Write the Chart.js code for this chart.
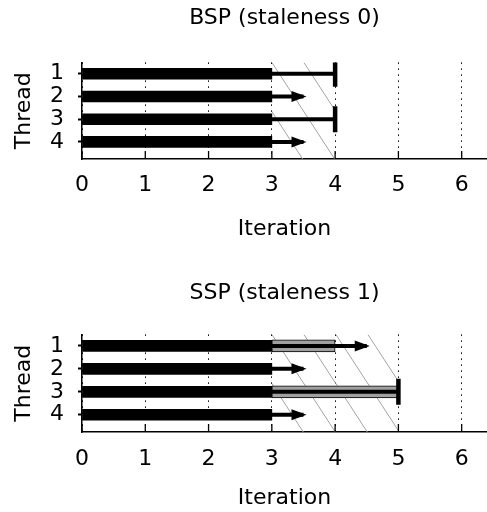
<!DOCTYPE html>
<html>
<head>
<meta charset="utf-8">
<script src="https://cdn.jsdelivr.net/npm/chart.js@4.4.0/dist/chart.umd.min.js"></script>
<style>
  html, body { margin: 0; padding: 0; background: #fff; overflow: hidden; }
  .box { position: absolute; left: 0; width: 487px; height: 256px; }
</style>
</head>
<body>
<div class="box" style="top:0"><canvas id="bspChart"></canvas></div>
<div class="box" style="top:256px"><canvas id="sspChart"></canvas></div>
<script>
const threads = [1, 2, 3, 4];
const xTicks = [0, 1, 2, 3, 4, 5, 6];
const yTicks = [1, 2, 3, 4];

// BSP (staleness 0)
const bspDone = [3, 3, 3, 3];            // finished iterations (thick black)
const bspCached = [3, 3, 3, 3];          // grey part end (none)
const bspReach = [4, 3.5, 4, 3.5];       // thin line end
const bspEnd = ['bar', 'arrow', 'bar', 'arrow'];
const bspWindow = [3, 4];                // hatched region

// SSP (staleness 1)
const sspDone = [3, 3, 3, 3];
const sspCached = [4, 3, 5, 3];
const sspReach = [4.5, 3.5, 5, 3.5];
const sspEnd = ['arrow', 'arrow', 'bar', 'arrow'];
const sspWindow = [3, 5];

const FONT = { family: 'DejaVu Sans', size: 22, weight: 'normal' };

// hatch, inward x ticks and arrow heads
const extras = {
    id: 'extras',
    beforeDatasetsDraw(chart, args, opts) {
        const { ctx, chartArea: a, scales: { x } } = chart;
        const x0 = x.getPixelForValue(opts.window[0]);
        const x1 = x.getPixelForValue(opts.window[1]);
        const h = a.bottom - a.top;
        const run = h * 0.65;
        ctx.save();
        ctx.beginPath();
        ctx.rect(x0, a.top, x1 - x0, h);
        ctx.clip();
        ctx.beginPath();
        ctx.strokeStyle = '#a4a4a4';
        ctx.lineWidth = 1;
        for (let sx = x0 - Math.ceil(run / 32) * 32; sx < x1; sx += 32) {
            ctx.moveTo(sx, a.top);
            ctx.lineTo(sx + run, a.bottom);
        }
        ctx.stroke();
        ctx.restore();

        ctx.save();
        ctx.strokeStyle = '#000';
        ctx.lineWidth = 1.3;
        ctx.beginPath();
        xTicks.forEach(v => {
            const px = x.getPixelForValue(v);
            ctx.moveTo(px, a.bottom);
            ctx.lineTo(px, a.bottom - 8);
        });
        ctx.stroke();
        ctx.restore();
    },
    afterDatasetsDraw(chart, args, opts) {
        const { ctx, scales: { x, y } } = chart;
        ctx.save();
        ctx.fillStyle = '#000';
        opts.reach.forEach((v, i) => {
            if (opts.ends[i] !== 'arrow') return;
            const px = x.getPixelForValue(v) + 3;
            const py = y.getPixelForValue(threads[i]);
            ctx.beginPath();
            ctx.moveTo(px, py);
            ctx.lineTo(px - 15, py - 5.5);
            ctx.lineTo(px - 15, py + 5.5);
            ctx.closePath();
            ctx.fill();
        });
        ctx.restore();
    }
};

function makeChart(id, title, done, cached, reach, ends, win, lay) {
    const datasets = [];

    // thick black bars
    datasets.push({
        type: 'bar',
        data: threads.map((t, i) => ({ x: [0, done[i]], y: t })),
        backgroundColor: '#000',
        barThickness: 11,
        grouped: false,
        order: 3
    });

    // grey bars
    datasets.push({
        type: 'bar',
        data: threads.map((t, i) => ({ x: [done[i], cached[i]], y: t })).filter(d => d.x[1] > d.x[0]),
        backgroundColor: '#a0a0a0',
        borderColor: '#000',
        borderWidth: 1,
        borderSkipped: false,
        barThickness: 12,
        grouped: false,
        order: 2
    });

    // thin lines
    threads.forEach((t, i) => {
        datasets.push({
            type: 'line',
            data: [{ x: done[i], y: t }, { x: reach[i], y: t }],
            borderColor: '#000',
            borderWidth: 4,
            borderCapStyle: 'butt',
            pointRadius: 0,
            fill: false,
            order: 1
        });
    });

    // end bars
    datasets.push({
        type: 'scatter',
        data: threads.map((t, i) => ({ x: reach[i], y: t })).filter((d, i) => ends[i] === 'bar'),
        pointStyle: 'line',
        pointRotation: 90,
        pointRadius: 13,
        pointBorderWidth: 4.5,
        pointBorderColor: '#000',
        order: 0
    });

    new Chart(document.getElementById(id), {
        type: 'bar',
        data: { datasets },
        plugins: [extras],
        options: {
            indexAxis: 'y',
            responsive: true,
            maintainAspectRatio: false,
            animation: false,
            events: [],
            layout: { padding: 0, autoPadding: false },
            plugins: {
                legend: { display: false },
                tooltip: { enabled: false },
                title: {
                    display: true, text: title, color: '#000', font: FONT, fullSize: false,
                    padding: { top: lay.tTop, bottom: lay.tBottom }
                },
                extras: { window: win, reach: reach, ends: ends }
            },
            scales: {
                x: {
                    type: 'linear', min: 0, max: 6.4,
                    afterBuildTicks: s => { s.ticks = xTicks.map(v => ({ value: v })); },
                    afterFit: s => { s.height = lay.xHeight; s.paddingLeft = 0; s.paddingRight = 0; },
                    grid: { color: '#000', lineWidth: 1, drawTicks: false, offset: false },
                    border: { color: '#000', width: 1.5, dash: [1.5, 4.5] },
                    ticks: { color: '#000', font: FONT, padding: lay.tickPad, maxRotation: 0, autoSkip: false },
                    title: {
                        display: true, text: 'Iteration', color: '#000', font: FONT,
                        padding: { top: 0, bottom: lay.xTitlePad }
                    }
                },
                y: {
                    type: 'linear', reverse: true, min: 0.5, max: 4.75, offset: false,
                    afterBuildTicks: s => { s.ticks = yTicks.map(v => ({ value: v })); },
                    afterFit: s => { s.width = 82; },
                    grid: { drawOnChartArea: false, drawTicks: true, tickLength: 4, tickWidth: 2, tickColor: '#000', offset: false },
                    border: { color: '#000', width: 1.5 },
                    ticks: { color: '#000', font: FONT, padding: 14, autoSkip: false },
                    title: {
                        display: true, text: 'Thread', color: '#000', font: FONT,
                        padding: { top: 11, bottom: 0 }
                    }
                }
            }
        }
    });
}

makeChart('bspChart', 'BSP (staleness 0)', bspDone, bspCached, bspReach, bspEnd, bspWindow,
    { tTop: 5, tBottom: 31, xHeight: 97, tickPad: 13, xTitlePad: 14 });
makeChart('sspChart', 'SSP (staleness 1)', sspDone, sspCached, sspReach, sspEnd, sspWindow,
    { tTop: 24, tBottom: 28, xHeight: 80, tickPad: 14, xTitlePad: 1 });
</script>
</body>
</html>
